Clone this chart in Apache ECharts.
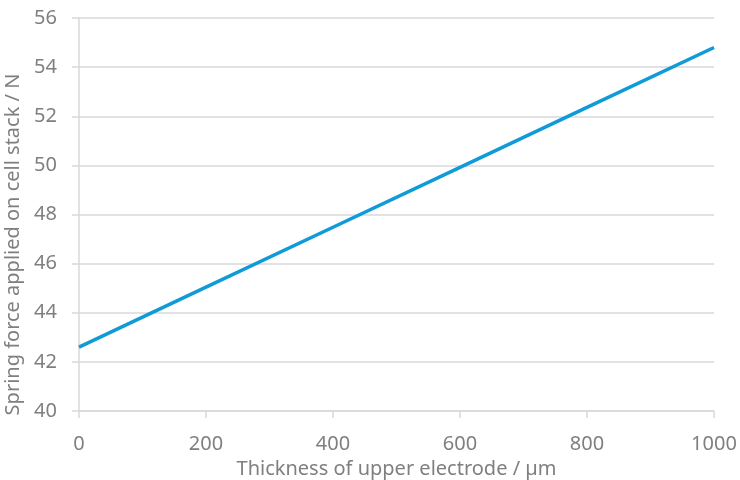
<!DOCTYPE html>
<html><head><meta charset="utf-8">
<script src="https://cdn.jsdelivr.net/npm/echarts@6/dist/echarts.min.js"></script>
<style>html,body{margin:0;padding:0;background:#fff}#c{width:740px;height:480px}</style>
</head><body><div id="c"></div>
<script>
const xValues = [0, 200, 400, 600, 800, 1000];
const springForce = [42.6, 45.04, 47.48, 49.92, 52.36, 54.8];
const xTitle = 'Thickness of upper electrode / µm';
const yTitle = 'Spring force applied on cell stack / N';

const chart = echarts.init(document.getElementById('c'));
const font = 'Noto Sans';
const grey = '#7f7f7f';
const lineGrey = '#d9d9d9';
chart.setOption({
  animation: false,
  grid: {left: 79, right: 26, top: 18, bottom: 69, containLabel: false, outerBoundsMode: 'none'},
  xAxis: {
    type: 'value', min: 0, max: 1000, interval: 200,
    name: xTitle, nameLocation: 'middle', nameGap: 40,
    nameTextStyle: {color: grey, fontSize: 20, fontFamily: font},
    axisLine: {show: true, lineStyle: {color: lineGrey, width: 1.5}},
    axisTick: {show: true, length: 7, lineStyle: {color: lineGrey, width: 1.5}},
    axisLabel: {color: grey, fontSize: 20, fontFamily: font, margin: 23, formatter: v => String(v)},
    splitLine: {show: false}
  },
  yAxis: {
    type: 'value', min: 40, max: 56, interval: 2,
    name: yTitle, nameLocation: 'middle', nameGap: 46,
    nameTextStyle: {color: grey, fontSize: 20, fontFamily: font, padding: [0, 60, 0, 0]},
    axisLine: {show: true, lineStyle: {color: lineGrey, width: 1.5}},
    axisTick: {show: true, length: 7, lineStyle: {color: lineGrey, width: 1.5}},
    axisLabel: {color: grey, fontSize: 20, fontFamily: font, margin: 22},
    splitLine: {show: true, lineStyle: {color: lineGrey, width: 1.5}}
  },
  series: [{
    type: 'line', data: xValues.map((x, i) => [x, springForce[i]]),
    showSymbol: false, lineStyle: {color: '#0f9ad8', width: 3.5}, itemStyle: {color: '#0f9ad8'}
  }]
});
</script></body></html>
